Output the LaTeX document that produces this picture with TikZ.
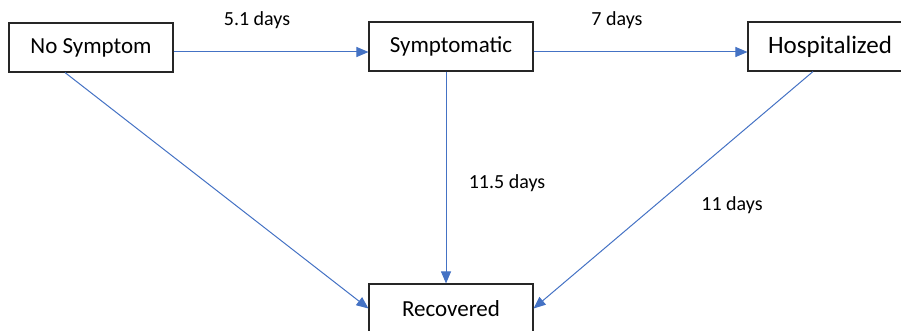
\documentclass[tikz,border=0pt]{standalone}
\usepackage{fontspec}
\setmainfont{Carlito}
\usetikzlibrary{arrows.meta}

\definecolor{flow}{RGB}{68,114,196}

\begin{document}
\begin{tikzpicture}[
        x=1pt, y=-1pt,
        stage/.style={draw=black!85, line width=1.1pt, fill=white, minimum width=164pt, minimum height=49pt, inner sep=0pt, font=\fontsize{23}{27}\selectfont},
        days/.style={font=\fontsize{20}{24}\selectfont, inner sep=0pt},
        flowline/.style={draw=flow, line width=1pt, -{Triangle[length=12pt,width=10pt]}},
      ]
      \useasboundingbox (0,0) rectangle (901,331);

      \node[stage] (nosym) at (91, 47.5) {No Symptom};
      \node[stage] (symp) at (451, 46.5) {Symptomatic};
      \node[stage, font=\fontsize{25}{29}\selectfont] (hosp) at (830, 46.5) {Hospitalized};
      \node[stage] (recov) at (451, 308.5) {Recovered};

      \draw[flowline] ([yshift=-4.5pt]nosym.east) -- ([yshift=-5.5pt]symp.west);
      \draw[flowline] ([yshift=-5.5pt]symp.east) -- ([yshift=-5.5pt]hosp.west);
      \draw[flowline] ([xshift=-5pt]symp.south) -- ([xshift=-5pt]recov.north);
      \draw[flowline] ([xshift=-26pt]nosym.south) -- (recov.west);
      \draw[flowline] ([xshift=-17pt]hosp.south) -- (recov.east);

      \node[days] (d51) at (257, 20) {5.1 days};
      \node[days] (d7) at (617, 20) {7 days};
      \node[days] (d115) at (507, 183) {11.5 days};
      \node[days] (d11) at (732, 205) {11 days};

    \end{tikzpicture}
\end{document}
